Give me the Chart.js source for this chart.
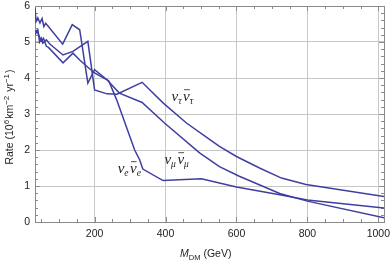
<!DOCTYPE html>
<html><head><meta charset="utf-8">
<script src="https://cdn.jsdelivr.net/npm/chart.js@4.4.1/dist/chart.umd.min.js"></script>
<style>html,body{margin:0;padding:0;background:#fff}#wrap{width:390px;height:260px}</style>
</head><body><div id="wrap"><canvas id="c" width="390" height="260"></canvas></div>
<script>
// ν_τ ν̄_τ
const tauX = [32, 40, 45, 50, 54, 64, 73, 111, 139, 181, 200, 235, 263, 334, 393, 459, 525, 552, 600, 665, 727, 796, 1016];
const tauY = [5.29, 5.34, 5.0, 5.1, 4.97, 5.06, 4.95, 4.64, 4.74, 5.02, 3.67, 3.56, 3.55, 3.88, 3.31, 2.75, 2.29, 2.1, 1.82, 1.5, 1.22, 1.04, 0.71];
// ν_μ ν̄_μ
const muX = [32, 38, 44, 50, 56, 64, 70, 111, 139, 158, 181, 200, 235, 270, 334, 397, 496, 552, 608, 722, 800, 1016];
const muY = [5.2, 5.3, 5.16, 5.02, 5.1, 4.88, 4.85, 4.42, 4.69, 4.5, 4.3, 4.14, 3.95, 3.58, 3.32, 2.75, 1.92, 1.54, 1.27, 0.79, 0.58, 0.12];
// ν_e ν̄_e
const eX = [32, 35, 40, 46, 52, 57, 62, 68, 110, 137, 158, 181, 200, 229, 240, 262, 313, 327, 336, 393, 501, 600, 722, 800, 1016];
const eY = [5.95, 5.57, 5.67, 5.53, 5.65, 5.43, 5.52, 5.45, 4.94, 5.48, 5.34, 3.86, 4.23, 4.0, 3.92, 3.4, 2.0, 1.73, 1.47, 1.15, 1.2, 0.97, 0.76, 0.61, 0.39];

const xMajor = [200, 400, 600, 800, 1000];
const yMajor = [0, 1, 2, 3, 4, 5, 6];
const labelSubs = ['τ', 'μ', 'e'];
const labelX = [417, 397, 265];
const labelY = [3.37, 1.62, 1.37];

const lineColor = '#3f3fa2';
function pts(xs, ys){ return xs.map((x,i)=>({x:x, y:ys[i]})); }

const decor = {
  id: 'decor',
  beforeDatasetsDraw(chart){
    const {ctx, chartArea:a, scales:{x, y}} = chart;
    ctx.save();
    ctx.strokeStyle = '#8a8a8a'; ctx.lineWidth = 1;
    ctx.beginPath();
    for (let v = 50; v <= 1016; v += 50){
      const px = Math.round(x.getPixelForValue(v)) + 0.5;
      const len = (v % 200 === 0) ? 5 : 3;
      ctx.moveTo(px, a.bottom); ctx.lineTo(px, a.bottom - len);
      ctx.moveTo(px, a.top); ctx.lineTo(px, a.top + len);
    }
    for (let k = 0; k <= 30; k++){
      const v = k * 0.2;
      const py = Math.round(y.getPixelForValue(v)) + 0.5;
      const len = (k % 5 === 0) ? 5 : 3;
      ctx.moveTo(a.left, py); ctx.lineTo(a.left + len, py);
      ctx.moveTo(a.right, py); ctx.lineTo(a.right - len, py);
    }
    ctx.stroke();
    ctx.strokeRect(Math.round(a.left)+0.5, Math.round(a.top)+0.5, Math.round(a.right-a.left), Math.round(a.bottom-a.top));
    ctx.restore();
  },
  afterDatasetsDraw(chart){
    const {ctx, scales:{x, y}} = chart;
    ctx.save();
    ctx.fillStyle = '#222';
    ctx.textBaseline = 'alphabetic';
    for (let i = 0; i < labelSubs.length; i++){
      let px = x.getPixelForValue(labelX[i]);
      const py = y.getPixelForValue(labelY[i]);
      for (let j = 0; j < 2; j++){
        ctx.font = 'italic 15px "Liberation Serif"';
        const w = ctx.measureText('ν').width;
        ctx.fillText('ν', px, py);
        if (j === 1){
          ctx.strokeStyle = '#222'; ctx.lineWidth = 0.8;
          ctx.beginPath(); ctx.moveTo(px+1, py-11); ctx.lineTo(px+w, py-11); ctx.stroke();
        }
        px += w;
        ctx.font = 'italic 9.5px "Liberation Serif"';
        ctx.fillText(labelSubs[i], px, py + 3);
        px += ctx.measureText(labelSubs[i]).width + 1.5;
      }
    }
    // x title
    let tx = 180, ty = 257;
    ctx.font = 'italic 10.5px "Liberation Sans"';
    ctx.fillText('M', tx, ty); tx += ctx.measureText('M').width;
    ctx.font = '7.5px "Liberation Sans"';
    ctx.fillText('DM', tx, ty + 2.5); tx += ctx.measureText('DM').width + 3;
    ctx.font = '10.5px "Liberation Sans"';
    ctx.fillText('(GeV)', tx, ty);
    // y title
    ctx.translate(13, 117);
    ctx.rotate(-Math.PI/2);
    const parts = [['Rate (10',0],['6',1],['km',0],['−2',1],[' yr',0],['−1',1],[')',0]];
    const big = '10.5px "Liberation Sans"', small = '8px "Liberation Sans"';
    let total = 0;
    for (const [t,s] of parts){ ctx.font = s ? small : big; total += ctx.measureText(t).width + (s ? 1 : 0); }
    let cx = -total/2;
    for (const [t,s] of parts){
      ctx.font = s ? small : big;
      ctx.fillText(t, cx, s ? -4.5 : 0);
      cx += ctx.measureText(t).width + (s ? 1 : 0);
    }
    ctx.restore();
  }
};

new Chart(document.getElementById('c'), {
  type: 'line',
  data: {
    datasets: [
      {label: 'tau', data: pts(tauX, tauY)},
      {label: 'mu', data: pts(muX, muY)},
      {label: 'e', data: pts(eX, eY)}
    ].map(d => Object.assign(d, {borderColor: lineColor, borderWidth: 1.5, pointRadius: 0, tension: 0, fill: false}))
  },
  options: {
    responsive: false, animation: false, devicePixelRatio: 1,
    layout: {padding: {top: 6, right: 6, left: 0, bottom: 0}},
    plugins: {legend: {display: false}, tooltip: {enabled: false}},
    scales: {
      x: {
        type: 'linear', min: 32, max: 1016,
        afterFit(s){ s.height = 38; s.paddingRight = 0; s.paddingLeft = 0; },
        afterBuildTicks(s){ s.ticks = xMajor.map(v => ({value: v})); },
        grid: {color: '#c8c8c8', drawTicks: false, lineWidth: 1},
        border: {display: false},
        ticks: {color: '#222', font: {family: 'Liberation Sans', size: 10.5}, padding: 6, maxRotation: 0,
                callback: v => String(v)}
      },
      y: {
        type: 'linear', min: 0, max: 6,
        afterFit(s){ s.width = 35; s.paddingTop = 0; s.paddingBottom = 0; },
        afterBuildTicks(s){ s.ticks = yMajor.map(v => ({value: v})); },
        grid: {color: '#c8c8c8', drawTicks: false, lineWidth: 1},
        border: {display: false},
        ticks: {color: '#222', font: {family: 'Liberation Sans', size: 10.5}, padding: 5}
      }
    }
  },
  plugins: [decor]
});
</script></body></html>
